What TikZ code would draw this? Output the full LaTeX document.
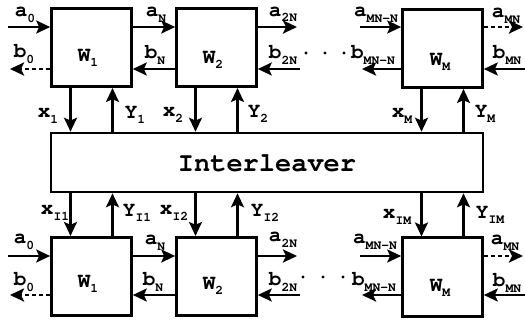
\documentclass[tikz,border=0pt]{standalone}
\usetikzlibrary{arrows.meta}
\newcommand{\cour}{\fontencoding{OT1}\fontfamily{pcr}\fontseries{b}\selectfont}
\newcommand{\sig}[2]{\fontsize{21}{21}\selectfont #1\raisebox{-5.5pt}{\fontsize{13}{13}\selectfont #2}}

\begin{document}
\begin{tikzpicture}[x=1pt,y=-1pt,
  box/.style={draw,line width=2.6pt,minimum width=80pt,minimum height=78.5pt,inner sep=0pt},
  arr/.style={line width=2.6pt,-{Stealth[length=14pt,width=13pt,inset=3pt]}},
  dsh/.style={dash pattern=on 4pt off 3pt},
  lab/.style={font=\cour,inner sep=0pt}]
\useasboundingbox (0,0) rectangle (525,321);
% boxes
\node[box] (t1) at (91.5,47.5) {};
\node[box] (t2) at (216.5,47.5) {};
\node[box] (tM) at (442.5,48.5) {};
\node[box,minimum width=432pt,minimum height=59pt] (il) at (267,162.5) {};
\node[box] (b1) at (91.5,276.5) {};
\node[box] (b2) at (216.5,276.5) {};
\node[box] (bM) at (442.5,277) {};
\node[lab] (ilt) at (267,163) {\fontsize{27}{27}\selectfont Interleaver};
\node[lab] (t1l) at (88,58) {\sig{W}{1}};
\node[lab] (t2l) at (213,60) {\sig{W}{2}};
\node[lab] (tMl) at (440,62) {\sig{W}{M}};
\node[lab] (b1l) at (88,284) {\sig{W}{1}};
\node[lab] (b2l) at (213,286) {\sig{W}{2}};
\node[lab] (bMl) at (440,288) {\sig{W}{M}};
% top row
\coordinate (ta0) at (8,27);
\coordinate (ta2) at (297,27);
\coordinate (taM) at (360,27);
\coordinate (taE) at (523,27);
\coordinate (tb0) at (10,69);
\coordinate (tb2) at (300,69);
\coordinate (tbM) at (362,69);
\coordinate (tbE) at (525,69);
\draw[arr] (ta0) -- (t1.west |- ta0);
\draw[arr] (t1.east |- ta0) -- (t2.west |- ta0);
\draw[arr] (t2.east |- ta0) -- (ta2);
\draw[arr] (taM) -- (tM.west |- taM);
\draw[arr,dsh] (tM.east |- taE) -- (taE);
\draw[arr,dsh] (t1.west |- tb0) -- (tb0);
\draw[arr] (t2.west |- tb0) -- (t1.east |- tb0);
\draw[arr] (tb2) -- (t2.east |- tb2);
\draw[arr] (tM.west |- tbM) -- (tbM);
\draw[arr] (tbE) -- (tM.east |- tbE);
\foreach \x in {306,325,344}
\fill (\x,53) circle (1.7);
\foreach \w in {t1,t2,tM}{
\draw[arr] ([xshift=-21pt]\w.south) -- ([xshift=-21pt]\w.south |- il.north);
\draw[arr] ([xshift=21pt]\w.south |- il.north) -- ([xshift=21pt]\w.south);
}
\node[lab] (ta0l) at (25,15) {\sig{a}{0}};
\node[lab] (tb0l) at (24,54) {\sig{b}{0}};
\node[lab] (taNl) at (156,15) {\sig{a}{N}};
\node[lab] (tbNl) at (155,55) {\sig{b}{N}};
\node[lab] (ta2l) at (283,14.5) {\sig{a}{2N}};
\node[lab] (tb2l) at (283,55) {\sig{b}{2N}};
\node[lab] (tamnl) at (376,15) {\sig{a}{MN-N}};
\node[lab] (tbmnl) at (373,55) {\sig{b}{MN-N}};
\node[lab] (taEl) at (506,16) {\sig{a}{MN}};
\node[lab] (tbEl) at (507,55) {\sig{b}{MN}};
\node[lab] (tx1) at (48,116) {\sig{x}{1}};
\node[lab] (ty1) at (135,115) {\sig{Y}{1}};
\node[lab] (tx2) at (173,115) {\sig{x}{2}};
\node[lab] (ty2) at (258,114) {\sig{Y}{2}};
\node[lab] (txM) at (402,116) {\sig{x}{M}};
\node[lab] (tyM) at (485,114) {\sig{Y}{M}};
% bottom row
\coordinate (ba0) at (8,256);
\coordinate (ba2) at (297,256);
\coordinate (baM) at (360,256);
\coordinate (baE) at (523,256);
\coordinate (bb0) at (10,295);
\coordinate (bb2) at (300,295);
\coordinate (bbM) at (362,295);
\coordinate (bbE) at (525,295);
\draw[arr] (ba0) -- (b1.west |- ba0);
\draw[arr] (b1.east |- ba0) -- (b2.west |- ba0);
\draw[arr] (b2.east |- ba0) -- (ba2);
\draw[arr] (baM) -- (bM.west |- baM);
\draw[arr,dsh] (bM.east |- baE) -- (baE);
\draw[arr,dsh] (b1.west |- bb0) -- (bb0);
\draw[arr] (b2.west |- bb0) -- (b1.east |- bb0);
\draw[arr] (bb2) -- (b2.east |- bb2);
\draw[arr] (bM.west |- bbM) -- (bbM);
\draw[arr] (bbE) -- (bM.east |- bbE);
\foreach \x in {303,323,343}
\fill (\x,277) circle (1.7);
\foreach \w in {b1,b2,bM}{
\draw[arr] ([xshift=-21pt]\w.north |- il.south) -- ([xshift=-21pt]\w.north);
\draw[arr] ([xshift=21pt]\w.north) -- ([xshift=21pt]\w.north |- il.south);
}
\node[lab] (ba0l) at (24,242) {\sig{a}{0}};
\node[lab] (bb0l) at (24,282) {\sig{b}{0}};
\node[lab] (baNl) at (155,243) {\sig{a}{N}};
\node[lab] (bbNl) at (153,282) {\sig{b}{N}};
\node[lab] (ba2l) at (283,240) {\sig{a}{2N}};
\node[lab] (bb2l) at (283,282) {\sig{b}{2N}};
\node[lab] (bamnl) at (375,242) {\sig{a}{MN-N}};
\node[lab] (bbmnl) at (374,282) {\sig{b}{MN-N}};
\node[lab] (baEl) at (505,243) {\sig{a}{MN}};
\node[lab] (bbEl) at (507,283) {\sig{b}{MN}};
\node[lab] (bx1) at (55,213) {\sig{x}{I1}};
\node[lab] (by1) at (137,213) {\sig{Y}{I1}};
\node[lab] (bx2) at (174,213) {\sig{x}{I2}};
\node[lab] (by2) at (265,213) {\sig{Y}{I2}};
\node[lab] (bxM) at (397,217) {\sig{x}{IM}};
\node[lab] (byM) at (490,215) {\sig{Y}{IM}};
\end{tikzpicture}
\end{document}
